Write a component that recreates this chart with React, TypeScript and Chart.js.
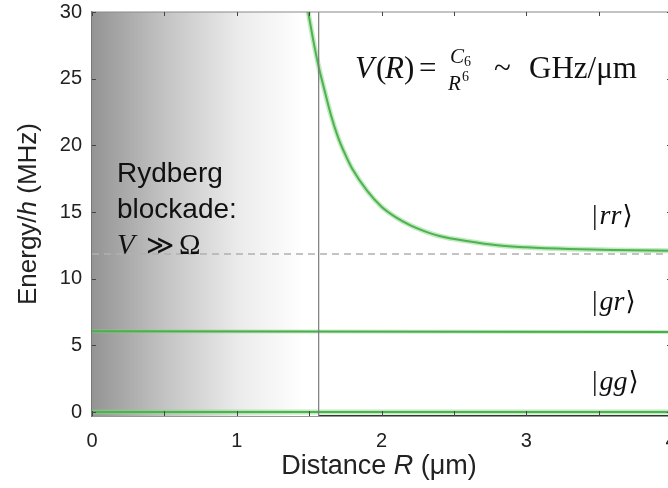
import React, { useEffect, useRef } from "react";
import { Chart, registerables } from "chart.js";
Chart.register(...registerables);

// Data
const rrR = [1.48, 1.5, 1.53, 1.566, 1.6, 1.65, 1.7, 1.75, 1.8, 1.9, 2.0, 2.1, 2.2, 2.3, 2.4, 2.6, 2.8, 3.0, 3.3, 3.6, 4.0];
const rrE = [30.8, 29.6, 27.8, 25.9, 24.4, 22.3, 20.6, 19.3, 18.2, 16.6, 15.4, 14.6, 14.0, 13.55, 13.2, 12.8, 12.5, 12.35, 12.22, 12.15, 12.1];
const grR = [0, 4];
const grE = [6.05, 6.0];
const ggR = [0, 4];
const ggE = [0, 0];
const blockadeR = 1.566;
const dashedE = 11.85;
const xTicks = [0, 1, 2, 3, 4];
const yTicks = [0, 5, 10, 15, 20, 25, 30];

const SANS = "'Liberation Sans', Arial, sans-serif";
const SERIF = "'Liberation Serif', 'DejaVu Serif', serif";

const overlay = {
  id: "overlay",
  beforeDatasetsDraw(chart: any) {
    const { ctx, chartArea: a, scales } = chart;
    const xv = scales.x.getPixelForValue(blockadeR);
    ctx.save();
    const g = ctx.createLinearGradient(a.left, 0, xv - 15, 0);
    g.addColorStop(0, "rgb(148,148,148)");
    g.addColorStop(0.35, "rgb(196,196,196)");
    g.addColorStop(0.7, "rgb(236,236,236)");
    g.addColorStop(1, "rgb(255,255,255)");
    ctx.fillStyle = g;
    ctx.fillRect(a.left, a.top, xv - a.left, a.bottom - a.top);
    const yd = scales.y.getPixelForValue(dashedE);
    ctx.strokeStyle = "#b0b0b0";
    ctx.lineWidth = 1.5;
    ctx.setLineDash([7, 5]);
    ctx.beginPath();
    ctx.moveTo(a.left, yd);
    ctx.lineTo(a.right, yd);
    ctx.stroke();
    ctx.restore();
  },
  afterDatasetsDraw(chart: any) {
    const { ctx, chartArea: a, scales } = chart;
    const sx = scales.x, sy = scales.y;
    ctx.save();
    const xv = sx.getPixelForValue(blockadeR);
    ctx.strokeStyle = "#7a7a7a";
    ctx.lineWidth = 1.2;
    ctx.beginPath();
    ctx.moveTo(xv, a.top);
    ctx.lineTo(xv, a.bottom);
    ctx.stroke();
    ctx.strokeStyle = "#8a8a8a";
    ctx.beginPath();
    ctx.moveTo(a.left, a.top);
    ctx.lineTo(a.right, a.top);
    ctx.stroke();
    ctx.strokeStyle = "#444";
    ctx.lineWidth = 1;
    for (let v = 0; v <= 4.001; v += 0.5) {
      const px = Math.round(sx.getPixelForValue(v)) + 0.5;
      ctx.beginPath();
      ctx.moveTo(px, a.bottom);
      ctx.lineTo(px, a.bottom - 5);
      ctx.moveTo(px, a.top);
      ctx.lineTo(px, a.top + 4);
      ctx.stroke();
    }
    for (const v of yTicks) {
      const py = Math.round(sy.getPixelForValue(v)) + 0.5;
      ctx.beginPath();
      ctx.moveTo(a.left, py);
      ctx.lineTo(a.left + 4, py);
      ctx.moveTo(a.right, py);
      ctx.lineTo(a.right - 4, py);
      ctx.stroke();
    }
    ctx.fillStyle = "#111";
    ctx.textBaseline = "alphabetic";
    ctx.textAlign = "left";
    // blockade text
    ctx.font = `28px ${SANS}`;
    ctx.fillText("Rydberg", 117, 182);
    ctx.fillText("blockade:", 117, 218);
    ctx.font = `italic 29px ${SERIF}`;
    ctx.fillText("V", 117, 254);
    ctx.font = `27px ${SERIF}`;
    ctx.fillText("≫", 146, 254);
    ctx.font = `29px ${SERIF}`;
    ctx.fillText("Ω", 179, 254);

    // formula
    const base = 78;
    const IT = `italic 31px ${SERIF}`;
    const RM = `31px ${SERIF}`;
    const put = (t: string, f: string, x: number, y = base) => {
      ctx.font = f;
      ctx.fillText(t, x, y);
    };
    put("V", IT, 355);
    put("(", RM, 376);
    put("R", IT, 385);
    put(")", RM, 404);
    put("=", RM, 419);
    put("C", `italic 21px ${SERIF}`, 450, 63);
    put("6", `14px ${SERIF}`, 464, 66);
    put("R", `italic 21px ${SERIF}`, 448, 90);
    put("6", `14px ${SERIF}`, 462, 81);
    put("~", RM, 494);
    put("GHz/μm", RM, 529);

    // state labels
    const ket = (s: string, y: number) => {
      let kx = 592;
      ctx.font = `28px ${SERIF}`;
      ctx.fillText("|", kx, y);
      kx += ctx.measureText("|").width + 2;
      ctx.font = `italic 28px ${SERIF}`;
      ctx.fillText(s, kx, y);
      kx += ctx.measureText(s).width + 1;
      ctx.font = `26px 'DejaVu Serif', serif`;
      ctx.fillText("⟩", kx, y);
    };
    ket("rr", 224);
    ket("gr", 310);
    ket("gg", 390);

    // axis titles
    ctx.fillStyle = "#222";
    const drawMixed = (parts: [string, boolean][], size: number, cx: number, y: number) => {
      const ws = parts.map(([t, it]) => {
        ctx.font = `${it ? "italic " : ""}${size}px ${SANS}`;
        return ctx.measureText(t).width;
      });
      let tx = cx - ws.reduce((p, c) => p + c, 0) / 2;
      parts.forEach(([t, it], i) => {
        ctx.font = `${it ? "italic " : ""}${size}px ${SANS}`;
        ctx.fillText(t, tx, y);
        tx += ws[i];
      });
    };
    drawMixed([["Distance ", false], ["R", true], [" (μm)", false]], 27, 379, 474);
    ctx.save();
    ctx.translate(36, 214);
    ctx.rotate(-Math.PI / 2);
    drawMixed([["Energy/", false], ["h", true], [" (MHz)", false]], 26, 0, 0);
    ctx.restore();
    ctx.restore();
  },
};

const toPts = (xs: number[], ys: number[]) => xs.map((x, i) => ({ x, y: ys[i] }));

export default function App() {
  const ref = useRef<HTMLCanvasElement>(null);
  useEffect(() => {
    document.body.style.margin = "0";
    const halo = "rgba(130,215,130,0.5)";
    const green = "#1e8a1e";
    const chart = new Chart(ref.current!, {
      type: "scatter",
      data: {
        datasets: [
          { data: toPts(rrR, rrE), showLine: true, borderColor: halo, borderWidth: 5, pointRadius: 0, cubicInterpolationMode: "monotone" },
          { data: toPts(rrR, rrE), showLine: true, borderColor: green, borderWidth: 2, pointRadius: 0, cubicInterpolationMode: "monotone" },
          { data: toPts(grR, grE), showLine: true, borderColor: "rgba(130,215,130,0.45)", borderWidth: 4, pointRadius: 0 },
          { data: toPts(grR, grE), showLine: true, borderColor: green, borderWidth: 2, pointRadius: 0 },
          { data: toPts(ggR, ggE), showLine: true, borderColor: "rgba(130,215,130,0.5)", borderWidth: 5, pointRadius: 0 },
          { data: toPts(ggR, ggE), showLine: true, borderColor: green, borderWidth: 2.2, pointRadius: 0 },
        ] as any,
      },
      options: {
        animation: false,
        responsive: false,
        maintainAspectRatio: false,
        layout: { padding: 0 },
        plugins: { legend: { display: false }, tooltip: { enabled: false } },
        scales: {
          x: {
            type: "linear",
            min: 0,
            max: 4,
            afterFit: (s: any) => { s.height = 72; s.paddingLeft = 0; s.paddingRight = 9; },
            afterBuildTicks: (s: any) => { s.ticks = xTicks.map((v) => ({ value: v })); },
            grid: { display: false, drawTicks: false },
            border: { display: true, color: "#333", width: 1.5 },
            ticks: { color: "#222", font: { family: SANS, size: 20 }, padding: 13, maxRotation: 0 },
          },
          y: {
            type: "linear",
            min: -0.3,
            max: 30,
            afterFit: (s: any) => { s.width = 92; s.paddingTop = 12; s.paddingBottom = 0; },
            afterBuildTicks: (s: any) => { s.ticks = yTicks.map((v) => ({ value: v })); },
            grid: { display: false, drawTicks: false },
            border: { display: true, color: "#777", width: 1.5 },
            ticks: { color: "#222", font: { family: SANS, size: 20 }, padding: 10 },
          },
        },
      } as any,
      plugins: [overlay],
    });
    return () => chart.destroy();
  }, []);
  return (
    <div style={{ position: "fixed", left: 0, top: 0, width: 668, height: 488, overflow: "hidden", background: "#fff" }}>
      <canvas ref={ref} width={680} height={488} style={{ display: "block", width: 680, height: 488 }} />
    </div>
  );
}
